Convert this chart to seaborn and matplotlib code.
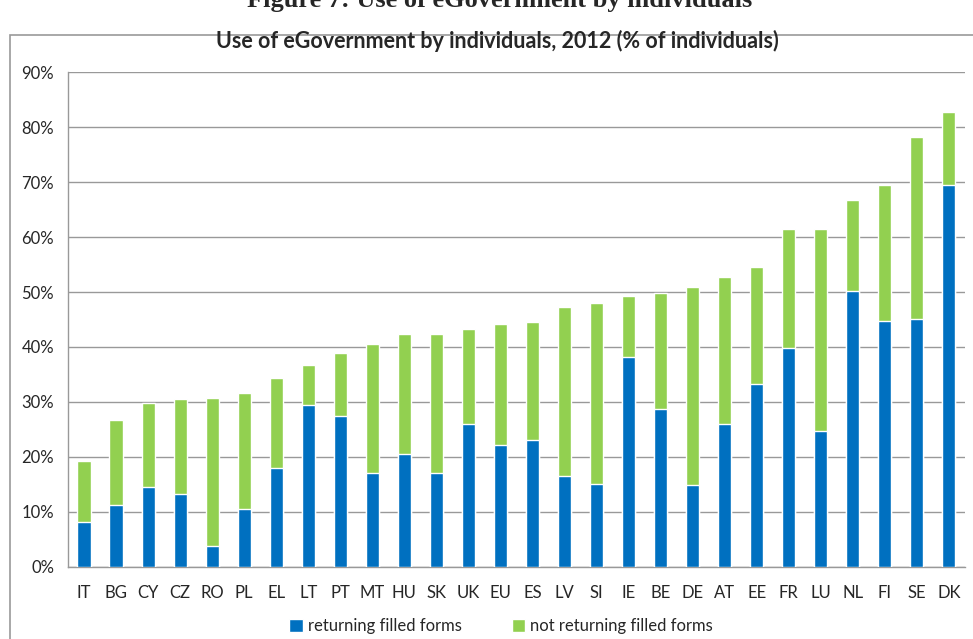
import pandas as pd
import seaborn as sns
import matplotlib.pyplot as plt
from matplotlib.patches import Rectangle, Patch
from matplotlib.ticker import PercentFormatter

# Countries, sorted by total use of eGovernment
countries = ["IT", "BG", "CY", "CZ", "RO", "PL", "EL", "LT", "PT", "MT", "HU", "SK", "UK", "EU",
             "ES", "LV", "SI", "IE", "BE", "DE", "AT", "EE", "FR", "LU", "NL", "FI", "SE", "DK"]
# % of individuals returning filled forms
returning = [8.2, 11.2, 14.6, 13.2, 3.8, 10.5, 18.0, 29.4, 27.4, 17.0, 20.6, 17.0, 26.0, 22.2,
             23.1, 16.5, 15.0, 38.2, 28.7, 14.9, 26.0, 33.2, 39.8, 24.7, 50.1, 44.8, 45.1, 69.4]
# total use (returning + not returning)
total = [19.2, 26.7, 29.8, 30.5, 30.8, 31.6, 34.3, 36.7, 38.9, 40.6, 42.4, 42.4, 43.2, 44.1,
         44.6, 47.2, 48.0, 49.3, 49.8, 51.0, 52.8, 54.6, 61.4, 61.4, 66.8, 69.5, 78.2, 82.7]

df = pd.DataFrame({"country": countries, "returning": returning, "total": total})

blue = "#0070C0"
green = "#92D050"

sns.set_style("white")
plt.rcParams['font.family'] = ['Lato', 'DejaVu Sans']

fig = plt.figure(figsize=(9.73, 6.39), dpi=100)
ax = fig.add_axes([0.0699, 0.1127, 0.9218, 0.7746])

# Green bar is the whole stack, blue drawn on top of it
sns.barplot(data=df, x="country", y="total", order=countries, color=green,
            width=0.41, saturation=1, ax=ax, zorder=3)
sns.barplot(data=df, x="country", y="returning", order=countries, color=blue,
            width=0.41, saturation=1, ax=ax, zorder=4)

ax.set_ylim(0, 90)
ax.set_xlim(-0.5, len(countries) - 0.5)
ax.set_yticks(range(0, 91, 10))
ax.yaxis.set_major_formatter(PercentFormatter(decimals=0))
ax.yaxis.grid(True, color="#999999", linewidth=1)
ax.set_axisbelow(True)
ax.set_xlabel("")
ax.set_ylabel("")

for s in ["top", "right"]:
    ax.spines[s].set_visible(False)
for s in ["left", "bottom"]:
    ax.spines[s].set_color("#999999")
    ax.spines[s].set_linewidth(1)

# tick marks between categories on x
ax.set_xticks([i + 0.5 for i in range(-1, len(countries))], minor=True)
ax.tick_params(axis="x", which="minor", length=5, color="#999999", width=1)
ax.tick_params(axis="x", which="major", length=0, labelsize=12, pad=13)
ax.tick_params(axis="y", length=5, color="#999999", width=1, labelsize=12, pad=5)

# chart frame and titles
fig.patches.append(Rectangle((10 / 973, -0.01), 1.0, (639 - 35) / 639 + 0.01,
                             transform=fig.transFigure, fill=False,
                             edgecolor="#999999", linewidth=1.2))
fig.text(0.511, 1 - 41 / 639, "Use of eGovernment by individuals, 2012 (% of individuals)",
         ha="center", va="center", fontsize=15.5, fontweight="bold")
fig.text(0.513, 1 - 1 / 639, "Figure 7: Use of eGovernment by individuals",
         ha="center", va="center", fontsize=19, fontweight="bold",
         family=["Liberation Serif", "DejaVu Serif"])

handles = [Patch(facecolor=blue, label="returning filled forms"),
           Patch(facecolor=green, label="not returning filled forms")]
fig.legend(handles=handles, loc="center", bbox_to_anchor=(0.515, 1 - 626 / 639), ncol=2,
           frameon=False, fontsize=12, handlelength=0.8, handleheight=0.8,
           columnspacing=3.0, handletextpad=0.3)

fig.savefig("out.png", dpi=100)
